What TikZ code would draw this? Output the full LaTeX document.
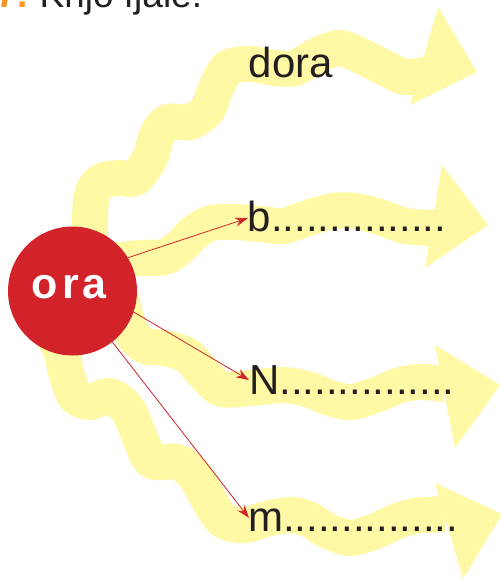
\documentclass[tikz,border=0pt]{standalone}
\usepackage{fontspec}
\setmainfont{Liberation Sans}
\usetikzlibrary{arrows.meta}
\definecolor{bandyellow}{HTML}{FFF9A6}
\definecolor{orared}{HTML}{D2232A}
\definecolor{txt}{HTML}{231F20}
\definecolor{numorange}{HTML}{F7941D}
\begin{document}
\begin{tikzpicture}[x=1pt,y=-1pt,
 band/.style={draw=bandyellow, line width=36pt, line cap=butt, line join=round},
 head/.style={fill=bandyellow},
 word/.style={anchor=base west, inner sep=0pt, text=txt, font=\fontsize{42}{50}\selectfont},
 link/.style={draw=orared, line width=0.8pt, -{Stealth[length=13pt,width=9pt]}},
 hub/.style={circle, fill=orared, minimum size=129pt, inner sep=0pt}
]
\useasboundingbox (0,0) rectangle (501,581);
\clip (0,0) rectangle (501,581);
% bands
\draw[band] plot[smooth] coordinates {(90,250) (91,200) (100,182) (118,178) (135,178) (150,158) (157,135) (168,122) (190,122) (207,110) (216,88) (228,68) (250,64) (275,68) (295,68) (318,55) (340,48) (363,57) (385,68) (405,77) (430,74)};
\draw[band] plot[smooth] coordinates {(105,262) (140,258) (165,257) (180,247) (195,232) (212,223) (235,222) (260,224) (283,226) (308,218) (333,211) (355,211) (380,217) (405,226) (435,228)};
\draw[band] plot[smooth] coordinates {(120,295) (130,330) (145,346) (165,348) (188,356) (205,375) (222,389) (250,388) (285,385) (310,390) (330,398) (352,402) (378,394) (400,385) (420,382) (445,384)};
\draw[band] plot[smooth] coordinates {(40,318) (60,348) (66,372) (75,396) (90,402) (110,396) (128,410) (140,438) (152,461) (178,462) (195,476) (210,502) (224,521) (245,525) (270,518) (293,515) (310,520) (328,531) (350,538) (373,532) (395,522) (415,516) (445,514)};
\fill[head] (438,7) -- (477,72) -- (410,105) -- cycle;
\fill[head] (442,165) -- (488,225) -- (425,268) -- cycle;
\fill[head] (435,345) -- (500,385) -- (455,448) -- cycle;
\fill[head] (435,483) -- (502,514) -- (463,579) -- cycle;
% title
\node[anchor=base west, inner sep=0pt, text=txt, font=\fontsize{37}{44}\selectfont] (title) at (39.5,7.5) {Krijo fjalë.};
\node[anchor=base east, inner sep=0pt, text=numorange, font=\bfseries\fontsize{37}{44}\selectfont] (num) at (28,7.5) {7.};
% hub
\node[hub] (hub) at (72.5,291) {};
\node[inner sep=0pt, text=white, font=\bfseries\fontsize{43}{50}\selectfont] (ora) at (68.5,287.5) {o\kern5pt r\kern3pt a};
% words
\node[word] (wdora) at (248.5,77) {dora};
\node[word] (wb) at (247.6,231) {b...............};
\node[word] (wn) at (249,394) {N...............};
\node[word] (wm) at (248,531) {m...............};
% arrow ends
\coordinate (tb) at (248,218);
\coordinate (tn) at (249,380);
\coordinate (tm) at (249,518);
\draw[link] (hub.31) -- (tb);
\draw[link] (hub.-19) -- (tn);
\draw[link] (hub.-52) -- (tm);
\end{tikzpicture}
\end{document}
